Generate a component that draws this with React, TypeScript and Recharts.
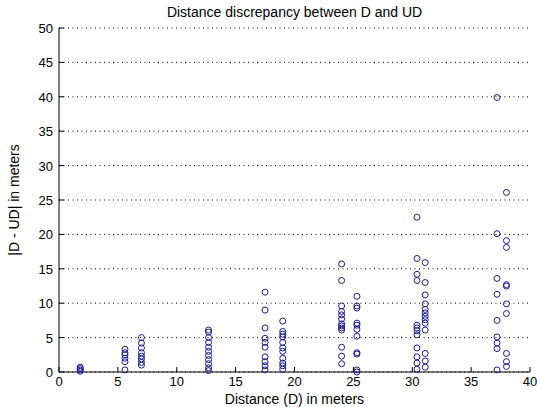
import React from 'react';
import { ScatterChart, Scatter, XAxis, YAxis, ZAxis, CartesianGrid } from 'recharts';

const distances = [1.8, 5.6, 7.0, 12.7, 17.5, 19.0, 24.0, 25.3, 30.4, 31.1, 37.2, 38.0];

const g1 = [0.1, 0.3, 0.5, 0.7];
const g2 = [0.3, 1.5, 2.0, 2.5, 2.8, 3.3];
const g3 = [1.0, 1.4, 1.9, 2.3, 2.8, 3.5, 4.2, 5.0];
const g4 = [0.2, 0.6, 1.2, 1.8, 2.4, 3.0, 3.6, 4.3, 5.0, 5.8, 6.1];
const g5 = [0.3, 0.9, 1.5, 2.2, 3.6, 4.3, 4.9, 6.4, 9.0, 11.6];
const g6 = [0.4, 0.9, 1.3, 2.0, 3.0, 3.5, 4.3, 5.1, 5.5, 5.9, 7.4];
const g7 = [1.2, 2.3, 3.6, 6.1, 6.4, 6.7, 7.0, 7.7, 8.3, 8.8, 9.6, 13.3, 15.7];
const g8 = [0.0, 0.3, 2.6, 2.8, 5.2, 6.2, 6.8, 7.1, 9.3, 9.6, 11.0];
const g9 = [0.4, 1.3, 2.2, 3.5, 5.4, 6.0, 6.4, 6.8, 13.3, 14.2, 16.5, 22.5];
const g10 = [0.7, 1.6, 2.7, 6.1, 7.1, 7.6, 8.1, 8.6, 9.1, 9.9, 11.2, 13.0, 15.9];
const g11 = [0.3, 3.4, 4.2, 5.1, 7.5, 11.3, 13.6, 20.1, 39.9];
const g12 = [0.8, 1.5, 2.7, 8.5, 9.9, 12.5, 12.7, 18.1, 19.1, 26.1];

const groups = [g1, g2, g3, g4, g5, g6, g7, g8, g9, g10, g11, g12];

const xTicks = [0, 5, 10, 15, 20, 25, 30, 35, 40];
const yTicks = [0, 5, 10, 15, 20, 25, 30, 35, 40, 45, 50];

const points = groups.flatMap((vals, i) => vals.map((v) => ({ d: distances[i], e: v })));

const FONT = '"Liberation Sans", Arial, sans-serif';
const MARK = '#1c1c8c';

const BottomTick = (props: any) => {
  const { x, y, payload } = props;
  return (
    <g>
      <line x1={x} y1={y} x2={x} y2={y - 5} stroke="#000" strokeWidth={1} />
      <text x={x} y={y + 14} textAnchor="middle" fontSize={13} fontFamily={FONT} fill="#000">
        {payload.value}
      </text>
    </g>
  );
};

const LeftTick = (props: any) => {
  const { x, y, payload } = props;
  return (
    <g>
      <line x1={x} y1={y} x2={x + 5} y2={y} stroke="#000" strokeWidth={1} />
      <text x={x - 6} y={y + 5} textAnchor="end" fontSize={13} fontFamily={FONT} fill="#000">
        {payload.value}
      </text>
    </g>
  );
};

const TopTick = (props: any) => {
  const { x, y } = props;
  return <line x1={x} y1={y} x2={x} y2={y + 5} stroke="#000" strokeWidth={1} />;
};

const RightTick = (props: any) => {
  const { x, y } = props;
  return <line x1={x} y1={y} x2={x - 5} y2={y} stroke="#000" strokeWidth={1} />;
};

const Ring = (props: any) => {
  const { cx, cy } = props;
  return <circle cx={cx} cy={cy} r={3} fill="none" stroke={MARK} strokeWidth={1} />;
};

export default function App() {
  return (
    <div style={{ position: 'absolute', left: 0, top: 0, width: 537, height: 407, background: '#fff', fontFamily: FONT }}>
      <ScatterChart width={537} height={407} margin={{ top: 28, right: 7, bottom: 0, left: 0 }}>
        <CartesianGrid horizontal={true} vertical={false} stroke="#000" strokeDasharray="1 3.5" />
        <XAxis
          type="number"
          dataKey="d"
          domain={[0, 40]}
          ticks={xTicks}
          height={35}
          tickSize={0}
          tickMargin={0}
          tickLine={false}
          axisLine={{ stroke: '#000' }}
          tick={<BottomTick />}
          interval={0}
        />
        <XAxis
          xAxisId="top"
          orientation="top"
          type="number"
          dataKey="d"
          domain={[0, 40]}
          ticks={xTicks}
          height={0}
          tickSize={0}
          tickMargin={0}
          tickLine={false}
          axisLine={{ stroke: '#000' }}
          tick={<TopTick />}
          interval={0}
        />
        <YAxis
          type="number"
          dataKey="e"
          domain={[0, 50]}
          ticks={yTicks}
          width={59}
          tickSize={0}
          tickMargin={0}
          tickLine={false}
          axisLine={{ stroke: '#000' }}
          tick={<LeftTick />}
          interval={0}
        />
        <YAxis
          yAxisId="right"
          orientation="right"
          type="number"
          dataKey="e"
          domain={[0, 50]}
          ticks={yTicks}
          width={0}
          tickSize={0}
          tickMargin={0}
          tickLine={false}
          axisLine={{ stroke: '#000' }}
          tick={<RightTick />}
          interval={0}
        />
        <ZAxis range={[30, 30]} />
        <Scatter data={points} shape={<Ring />} isAnimationActive={false} />
      </ScatterChart>
      <div style={{ position: 'absolute', left: 59, width: 471, top: 4, textAlign: 'center', fontSize: 14, lineHeight: '16px', color: '#000' }}>
        Distance discrepancy between D and UD
      </div>
      <div style={{ position: 'absolute', left: 59, width: 471, top: 391, textAlign: 'center', fontSize: 14, lineHeight: '16px', color: '#000' }}>
        Distance (D) in meters
      </div>
      <div
        style={{
          position: 'absolute',
          left: 14,
          top: 200,
          transform: 'translate(-50%, -50%) rotate(-90deg)',
          whiteSpace: 'nowrap',
          fontSize: 14,
          lineHeight: '16px',
          color: '#000',
        }}
      >
        |D - UD| in meters
      </div>
    </div>
  );
}
